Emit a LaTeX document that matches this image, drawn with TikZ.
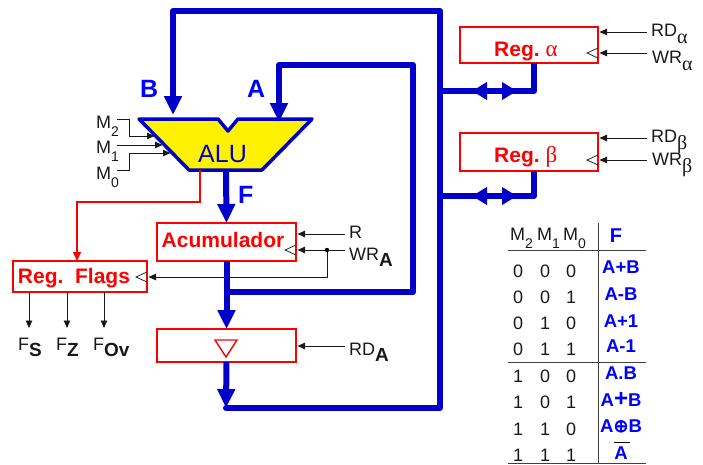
\documentclass[tikz,border=0pt]{standalone}
\usepackage{fontspec}
\setmainfont{Liberation Sans}
\newfontfamily\greekfont{Liberation Serif}
\newfontfamily\dejavufont[FakeBold=3]{DejaVu Sans}
\usetikzlibrary{arrows.meta}
\definecolor{busblue}{RGB}{0,0,200}
\definecolor{textblue}{RGB}{0,0,255}
\newcommand{\fs}[1]{\fontsize{#1}{#1}\selectfont}
\newcommand{\low}[2]{\raisebox{-#1pt}{#2}}
\newcommand{\gsub}[1]{\low{7}{\fs{20}\greekfont #1}}
\newcommand{\bsub}[1]{\low{6}{\fs{19}\bfseries #1}}
\newcommand{\nsub}[1]{\low{8}{\fs{14}#1}}
\tikzset{
	bus/.style={draw=busblue,line width=6pt,line join=round},
	bustip/.style={bus,-{Triangle[length=19pt,width=17pt]}},
	busboth/.style={bus,{Triangle[length=15pt,width=17pt]}-{Triangle[length=15pt,width=17pt]}},
	ctl/.style={draw=black!90,line width=0.9pt,-{Triangle[length=7.5pt,width=6.5pt]},shorten >=1.5pt},
	clk/.style={draw=black!85,line width=0.8pt},
	regbox/.style={draw=red,line width=1.4pt,inner sep=0pt,outer sep=0pt,anchor=north west},
	regtxt/.style={inner sep=0pt,text=red,font=\fs{21}\bfseries},
	lab/.style={inner sep=0pt,anchor=base west,font=\fs{18},text=black!90},
	buslab/.style={inner sep=0pt,anchor=base west,font=\fs{25}\bfseries,text=textblue},
	cell/.style={inner sep=0pt,anchor=base,font=\fs{18},text=black!90},
	fcell/.style={inner sep=0pt,anchor=base,font=\fs{18.5}\bfseries,text=textblue},
	rule/.style={draw=black!75,line width=1pt}
}
\begin{document}
\begin{tikzpicture}[x=1pt,y=-1pt]
	\useasboundingbox (0,0) rectangle (703,464);
	\coordinate (bTop) at (173,11);
	\coordinate (bEnd) at (173,115);
	\coordinate (aTop) at (279,65);
	\coordinate (aEnd) at (279,122);
	\coordinate (aRight) at (413,65);
	\coordinate (aLow) at (413,292);
	\coordinate (aJoin) at (226,292);
	\coordinate (mainTop) at (440,11);
	\coordinate (mainLow) at (440,408);
	\coordinate (mainEnd) at (226,408);
	\coordinate (aluOut) at (226,171);
	\coordinate (aluFlag) at (200,170);
	\coordinate (flagBend) at (200,202);
	\coordinate (flagTop) at (77,202);

	\node[regbox,minimum width=139pt,minimum height=38pt] (acc) at (157,223) {};
	\node[regbox,minimum width=134pt,minimum height=31pt] (flags) at (13,261) {};
	\node[regbox,minimum width=139pt,minimum height=33pt] (buf) at (157,329) {};
	\node[regbox,minimum width=138pt,minimum height=36pt] (rega) at (460,27) {};
	\node[regbox,minimum width=138pt,minimum height=38pt] (regb) at (460,133) {};

	\draw[bustip,line cap=round] (mainEnd)--(mainLow)--(mainTop)--(bTop)--(bEnd);
	\draw[bustip] (aluOut)--(acc.north);
	\draw[bustip] (acc.south)--(buf.north);
	\draw[bustip] (buf.south)--(mainEnd);

	\coordinate (aTap) at (534,63);
	\coordinate (aBend) at (534,91);
	\coordinate (aBus) at (440,91);
	\coordinate (bTap) at (534,171);
	\coordinate (bBend) at (534,196);
	\coordinate (bBus) at (440,196);
	\draw[bus] (aTap)--(aBend)--(aBus);
	\draw[bus] (bTap)--(bBend)--(bBus);
	\draw[busboth] (472,91)--(517,91);
	\draw[busboth] (472,196)--(517,196);

	\draw[draw=busblue,line width=3.5pt,line join=round,fill=yellow] (139,119)--(218,119)--(228,131)--(238,119)--(312,119)--(262,170)--(189,170)--cycle;
	\draw[bustip] (aJoin)--(aLow)--(aRight)--(aTop)--(aEnd);
	\node[inner sep=0pt,anchor=base,font=\fs{25},text=busblue] (alu) at (222.5,162) {ALU};
	\node[buslab] (lblb) at (140,97) {B};
	\node[buslab] (lbla) at (247,97) {A};
	\node[buslab] (lblf) at (238,203) {F};

	\draw[draw=red,line width=1.3pt,-{Triangle[length=9pt,width=8pt]}] (aluFlag)--(flagBend)--(flagTop)--(flagTop|-flags.north);

	\node[regtxt,anchor=base] (acctxt) at (223,247) {Acumulador};
	\node[regtxt,anchor=base] (flagstxt) at (74,283) {Reg.\ \ Flags};
	\node[regtxt,anchor=base west] (regatxt) at (494,56) {Reg.\ {\mdseries\greekfont\fs{23}α}};
	\node[regtxt,anchor=base west] (regbtxt) at (494,162) {Reg.\ {\mdseries\greekfont\fs{23}β}};
	\draw[draw=red,line width=1.4pt,line join=miter] (215,340)--(237,340)--(226,357)--cycle;

	\coordinate (rIn) at (345,234);
	\coordinate (wrIn) at (345,250);
	\coordinate (wrDot) at (327,250);
	\coordinate (wrLow) at (327,277);
	\coordinate (rdIn) at (345,346);
	\coordinate (rdaIn) at (647,32);
	\coordinate (wraIn) at (647,53);
	\coordinate (rdbIn) at (647,138);
	\coordinate (wrbIn) at (647,160);
	\draw[ctl] (rIn)--(acc.east|-rIn);
	\draw[ctl] (wrIn)--(acc.east|-wrIn);
	\draw[ctl] (wrDot)--(wrLow)--(flags.east|-wrLow);
	\fill[black] (wrDot) circle (2.2);
	\draw[ctl] (rdIn)--(buf.east|-rdIn);
	\draw[ctl] (rdaIn)--(rega.east|-rdaIn);
	\draw[ctl] (wraIn)--(rega.east|-wraIn);
	\draw[ctl] (rdbIn)--(regb.east|-rdbIn);
	\draw[ctl] (wrbIn)--(regb.east|-wrbIn);
	\draw[clk] (296,245)--(285,250)--(296,255);
	\draw[clk] (147,272)--(136,277)--(147,282);
	\draw[clk] (598,48)--(587,53)--(598,58);
	\draw[clk] (598,155)--(587,160)--(598,165);

	\node[lab] (lblr) at (349,238) {R};
	\node[lab] (lblwr) at (349,260) {WR\bsub{A}};
	\node[lab] (lblrd) at (349,355) {RD\bsub{A}};
	\node[lab] (lblrda) at (651,36) {RD\gsub{α}};
	\node[lab] (lblwra) at (652,63) {WR\gsub{α}};
	\node[lab] (lblrdb) at (651,142) {RD\gsub{β}};
	\node[lab] (lblwrb) at (652,165) {WR\gsub{β}};

	\coordinate (mTwoA) at (117,119);
	\coordinate (mTwoB) at (129,119);
	\coordinate (mTwoC) at (129,136);
	\coordinate (mTwoD) at (156,136);
	\coordinate (mOneA) at (117,145);
	\coordinate (mOneD) at (164,145);
	\coordinate (mZeroA) at (117,170);
	\coordinate (mZeroB) at (129,170);
	\coordinate (mZeroC) at (129,153);
	\coordinate (mZeroD) at (172,153);
	\draw[ctl] (mTwoA)--(mTwoB)--(mTwoC)--(mTwoD);
	\draw[ctl] (mOneA)--(mOneD);
	\draw[ctl] (mZeroA)--(mZeroB)--(mZeroC)--(mZeroD);
	\node[lab] (lblmtwo) at (96,128) {M\nsub{2}};
	\node[lab] (lblmone) at (96,153) {M\nsub{1}};
	\node[lab] (lblmzero) at (96,179) {M\nsub{0}};

	\node[lab] (lblfs) at (18,350) {F\bsub{S}};
	\node[lab] (lblfz) at (56,350) {F\bsub{Z}};
	\node[lab] (lblfo) at (93,350) {F\bsub{Ov}};
	\coordinate (fsEnd) at (29,328);
	\coordinate (fzEnd) at (67,328);
	\coordinate (foEnd) at (104,328);
	\draw[ctl,shorten >=0pt] (fsEnd|-flags.south)--(fsEnd);
	\draw[ctl,shorten >=0pt] (fzEnd|-flags.south)--(fzEnd);
	\draw[ctl,shorten >=0pt] (foEnd|-flags.south)--(foEnd);

	\draw[rule] (598,223)--(598,463);
	\draw[rule] (508,250)--(646,250);
	\draw[rule] (508,362)--(646,362);
	\draw[rule] (508,463)--(646,463);
	\node[lab] (headtwo) at (510,240) {M\nsub{2}};
	\node[lab] (headone) at (537,240) {M\nsub{1}};
	\node[lab] (headzero) at (563,240) {M\nsub{0}};
	\node[fcell,font=\fs{20}\bfseries] (headf) at (616,242) {F};
	\foreach \rownum/\rowy/\bita/\bitb/\bitc in {1/277/0/0/0,2/303/0/0/1,3/329/0/1/0,4/355/0/1/1,5/382/1/0/0,6/408/1/0/1,7/435/1/1/0,8/461/1/1/1}
	{
		\node[cell] (a\rownum) at (518,\rowy) {\bita};
		\node[cell] (b\rownum) at (545,\rowy) {\bitb};
		\node[cell] (c\rownum) at (571,\rowy) {\bitc};
	}
	\node[fcell] (fa) at (621,273) {A+B};
	\node[fcell] (fb) at (621,300) {A-B};
	\node[fcell] (fc) at (621,327) {A+1};
	\node[fcell] (fd) at (621,352) {A-1};
	\node[fcell] (fe) at (621,379) {A.B};
	\node[fcell] (ff) at (621,406) {A{\fs{24}+}B};
	\node[fcell] (fg) at (621,432) {A{\mdseries\dejavufont\fs{18}⊕}B};
	\node[fcell] (fh) at (621,459) {A};
	\draw[black,line width=0.9pt] (614,442)--(630,442);
\end{tikzpicture}
\end{document}
